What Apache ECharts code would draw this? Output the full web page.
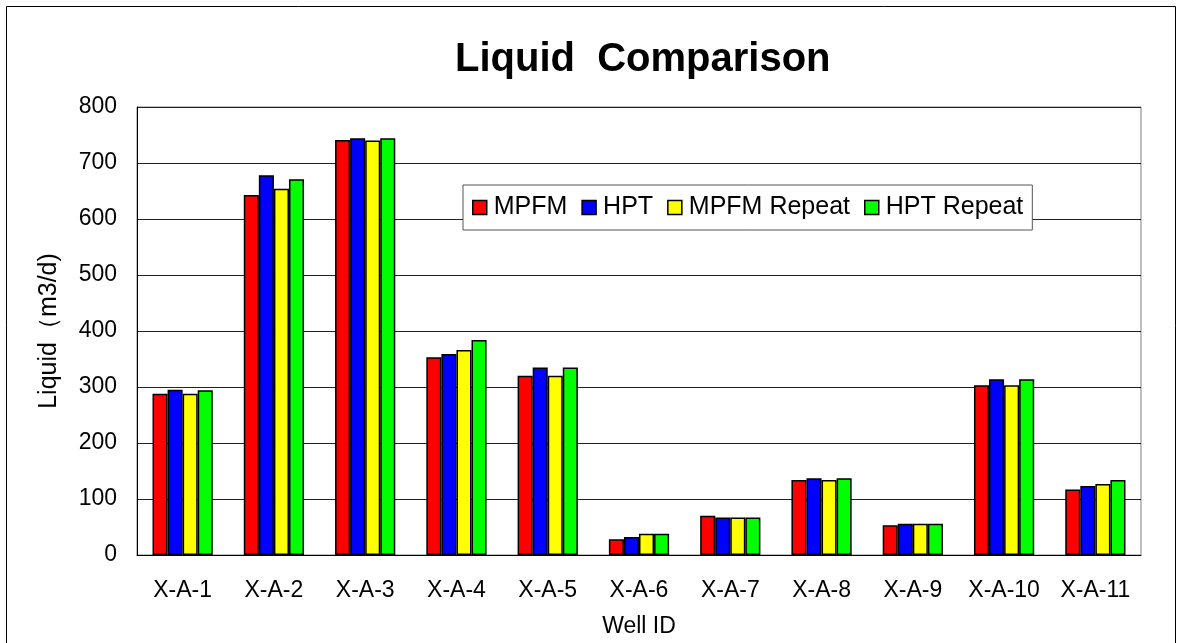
<!DOCTYPE html>
<html>
<head>
<meta charset="utf-8">
<script src="https://cdn.jsdelivr.net/npm/echarts@6/dist/echarts.min.js"></script>
<style>
  html, body { margin: 0; padding: 0; background: #fff; }
  #chart { width: 1183px; height: 643px; }
</style>
</head>
<body>
<div id="chart"></div>
<script>
// well names along the x axis
const wells = ["X-A-1", "X-A-2", "X-A-3", "X-A-4", "X-A-5", "X-A-6", "X-A-7", "X-A-8", "X-A-9", "X-A-10", "X-A-11"];

// liquid rate, m3/d
const mpfm = [288, 643, 741, 353, 320, 28, 70, 134, 53, 303, 117];
const hpt = [295, 678, 744, 359, 335, 32, 67, 137, 56, 314, 123];
const mpfmRepeat = [288, 654, 740, 366, 320, 38, 67, 134, 56, 303, 127];
const hptRepeat = [294, 671, 744, 384, 335, 38, 67, 137, 56, 314, 134];

const yTicks = [0, 100, 200, 300, 400, 500, 600, 700, 800];

const font = "Liberation Sans, Arial, sans-serif";

const chart = echarts.init(document.getElementById("chart"));

function barSeries(name, color, data) {
  return {
    name: name,
    type: "bar",
    data: data,
    barGap: "0%",
    barCategoryGap: "34%",
    itemStyle: {
      color: color,
      borderColor: "#000",
      borderWidth: 1.5,
    },
  };
}

const option = {
  backgroundColor: "#fff",
  animation: false,
  title: {
    text: "Liquid  Comparison",
    left: 455,
    top: 40,
    padding: 0,
    textStyle: {
      fontFamily: font,
      fontSize: 40,
      fontWeight: "bold",
      color: "#000",
    },
  },
  legend: {
    left: 463,
    top: 185,
    padding: [10, 9, 10, 9],
    itemGap: 14,
    itemWidth: 14,
    itemHeight: 14,
    icon: "rect",
    borderColor: "#555",
    borderWidth: 1,
    backgroundColor: "#fff",
    textStyle: { fontFamily: font, fontSize: 25, color: "#000", padding: [0, 0, 0, 2] },
    itemStyle: { borderColor: "#000", borderWidth: 1.5 },
    data: ["MPFM", "HPT", "MPFM Repeat", "HPT Repeat"],
  },
  grid: {
    left: 137,
    right: 42,
    top: 107,
    bottom: 88,
    containLabel: false,
    show: true,
    borderColor: "#808080",
    borderWidth: 1,
  },
  graphic: [
    {
      type: "rect",
      shape: { x: 6.5, y: 6.5, width: 1169, height: 700 },
      style: { fill: "none", stroke: "#000", lineWidth: 1 },
      z: -10,
    },
  ],
  xAxis: {
    type: "category",
    data: wells,
    name: "Well ID",
    nameLocation: "middle",
    nameGap: 60,
    nameTextStyle: { fontFamily: font, fontSize: 23, color: "#000" },
    axisLine: { lineStyle: { color: "#000", width: 1 } },
    axisTick: { show: false },
    axisLabel: { fontFamily: font, fontSize: 23, color: "#000", margin: 24, interval: 0, hideOverlap: false },
  },
  yAxis: {
    type: "value",
    min: yTicks[0],
    max: yTicks[yTicks.length - 1],
    interval: 100,
    name: "Liquid（m3/d)",
    nameLocation: "middle",
    nameGap: 75,
    nameTextStyle: { fontFamily: font, fontSize: 25, color: "#000" },
    axisLine: { show: true, lineStyle: { color: "#000", width: 1 } },
    axisTick: { show: false },
    axisLabel: { fontFamily: font, fontSize: 23, color: "#000", margin: 20 },
    splitLine: { lineStyle: { color: "#222", width: 1 } },
  },
  series: [
    barSeries("MPFM", "#ff0000", mpfm),
    barSeries("HPT", "#0000ff", hpt),
    barSeries("MPFM Repeat", "#ffff00", mpfmRepeat),
    barSeries("HPT Repeat", "#00ff00", hptRepeat),
  ],
};

chart.setOption(option);
</script>
</body>
</html>
